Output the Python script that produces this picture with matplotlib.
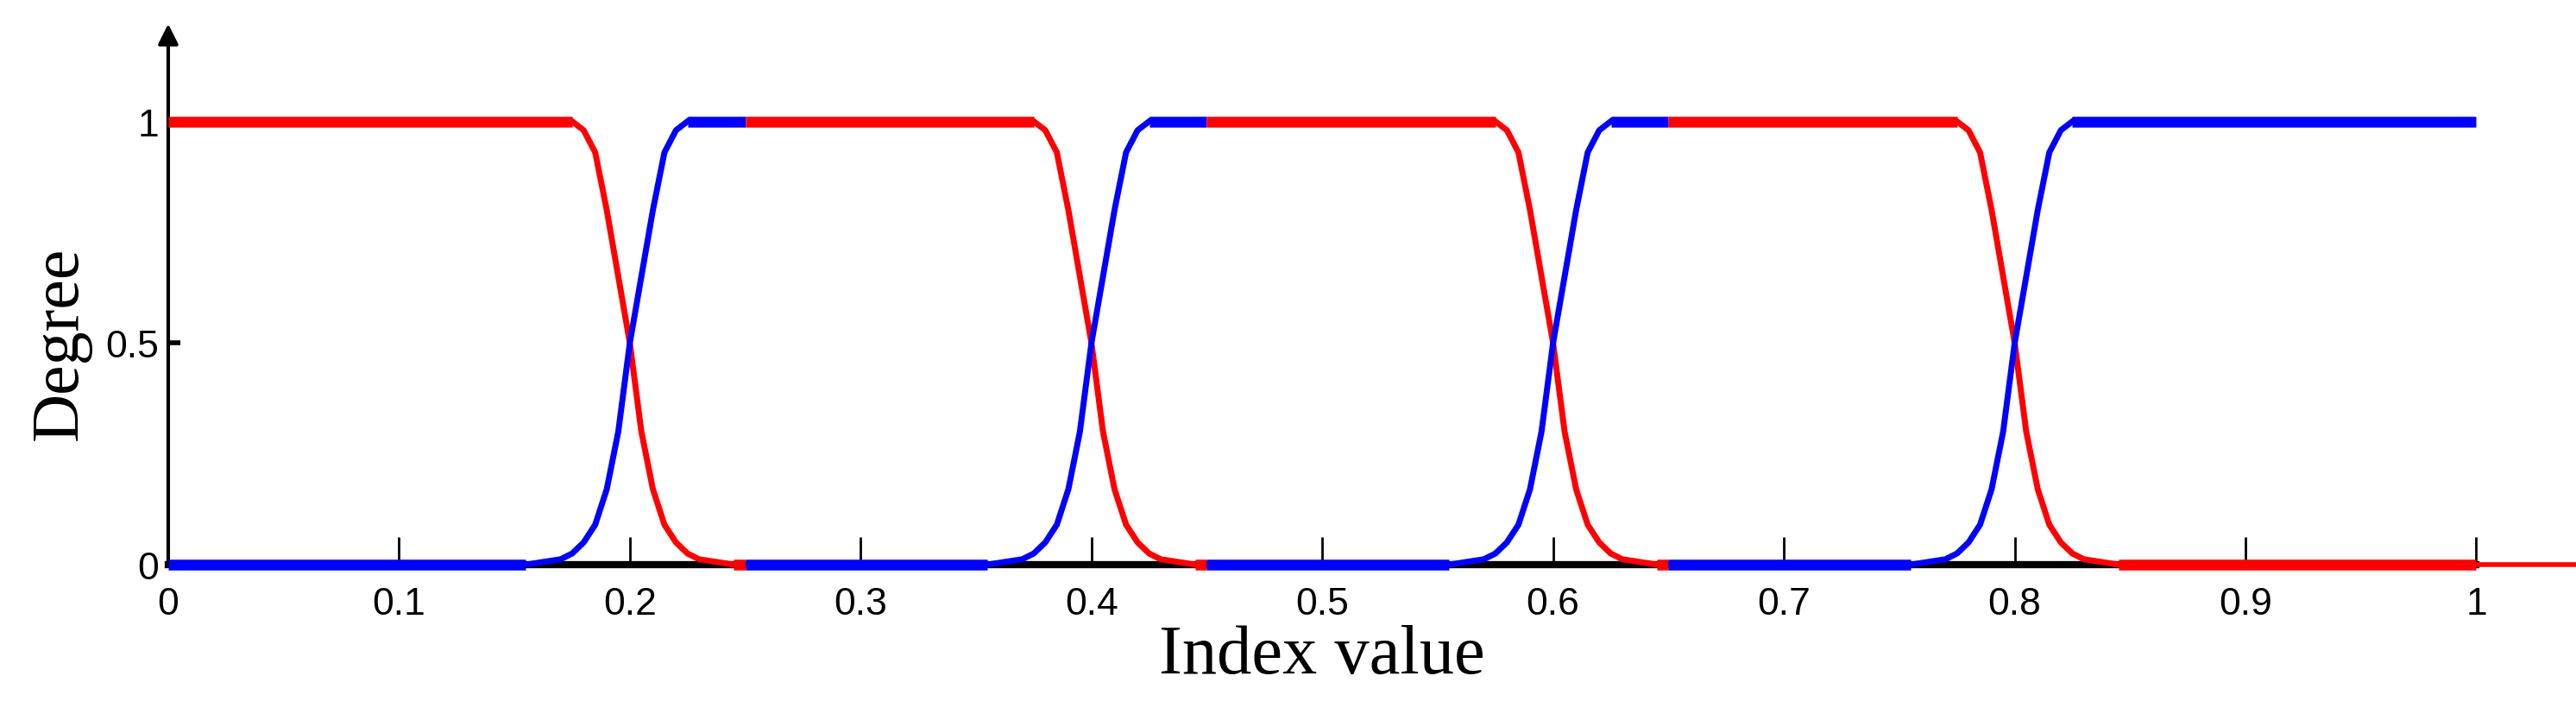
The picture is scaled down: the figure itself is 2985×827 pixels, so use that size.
import matplotlib
matplotlib.use('Agg')
import numpy as np
import matplotlib.pyplot as plt

# transition centres and profiles (offset from centre -> degree)
centers = [0.2, 0.4, 0.6, 0.8]
red_off = [-0.025, -0.02, -0.015, -0.01, -0.005, 0.0, 0.005, 0.01, 0.015, 0.02, 0.025, 0.03, 0.04, 0.045]
red_val = [1.0, 0.98, 0.93, 0.8, 0.65, 0.5, 0.3, 0.17, 0.09, 0.05, 0.025, 0.012, 0.004, 0.0]
blue_off = [-0.045, -0.04, -0.03, -0.025, -0.02, -0.015, -0.01, -0.005, 0.0, 0.005, 0.01, 0.015, 0.02, 0.025]
blue_val = [0.0, 0.004, 0.012, 0.025, 0.05, 0.09, 0.17, 0.3, 0.5, 0.65, 0.8, 0.93, 0.98, 1.0]
xticks = [0, 0.1, 0.2, 0.3, 0.4, 0.5, 0.6, 0.7, 0.8, 0.9, 1]
xtick_labels = ['0', '0.1', '0.2', '0.3', '0.4', '0.5', '0.6', '0.7', '0.8', '0.9', '1']
yticks = [0, 0.5, 1]
ytick_labels = ['0', '0.5', '1']

fig = plt.figure(figsize=(29.85, 8.28), dpi=100)
ax = fig.add_axes([0.0653, 0.209, 0.896, 0.62])
ax.set_xlim(0, 1)
ax.set_ylim(0, 1)
for s in ax.spines.values():
    s.set_visible(False)

# axes with arrows
ax.plot([0, 1], [0, 0], color='black', lw=6, clip_on=False, zorder=1)
ax.annotate('', xy=(1.07, 0), xytext=(1.0, 0), xycoords='data',
            arrowprops=dict(arrowstyle='-|>', color='red', lw=4, mutation_scale=45,
                            shrinkA=0, shrinkB=0), annotation_clip=False)
ax.annotate('', xy=(0, 1.22), xytext=(0, 0), xycoords='data',
            arrowprops=dict(arrowstyle='-|>', color='black', lw=3, mutation_scale=35,
                            shrinkA=0, shrinkB=0), annotation_clip=False)

flat_lw = 9
curve_lw = 5
red = '#ff0000'
blue = '#0000ff'
for i, c in enumerate(centers):
    start = 0.0 if i == 0 else c - 0.15
    end = 1.0 if i == len(centers) - 1 else c + 0.05
    rx = [c + o for o in red_off]
    bx = [c + o for o in blue_off]
    # red: high then falls
    ax.plot(rx, red_val, color=red, lw=curve_lw, clip_on=False, zorder=3)
    ax.hlines(1, start, rx[0], color=red, lw=flat_lw, zorder=3, clip_on=False)
    ax.hlines(0, rx[-1], end, color=red, lw=flat_lw, zorder=3, clip_on=False)
    # blue: low then rises
    ax.plot(bx, blue_val, color=blue, lw=curve_lw, clip_on=False, zorder=3)
    ax.hlines(0, start, bx[0], color=blue, lw=flat_lw, zorder=3, clip_on=False)
    ax.hlines(1, bx[-1], end, color=blue, lw=flat_lw, zorder=3, clip_on=False)

ax.set_xticks(xticks)
ax.set_xticklabels(xtick_labels)
ax.set_yticks(yticks)
ax.set_yticklabels(ytick_labels)
ax.tick_params(axis='x', direction='in', length=23, width=2, pad=18, labelsize=32)
ax.tick_params(axis='y', direction='in', length=10, width=4, pad=8, labelsize=32)
for lab in ax.get_xticklabels() + ax.get_yticklabels():
    lab.set_fontfamily('Liberation Sans')

ax.set_xlabel('Index value', family='Liberation Serif', fontsize=58, labelpad=2)
ax.set_ylabel('Degree', family='Liberation Serif', fontsize=56, labelpad=12)

fig.savefig('out.png', dpi=100)
